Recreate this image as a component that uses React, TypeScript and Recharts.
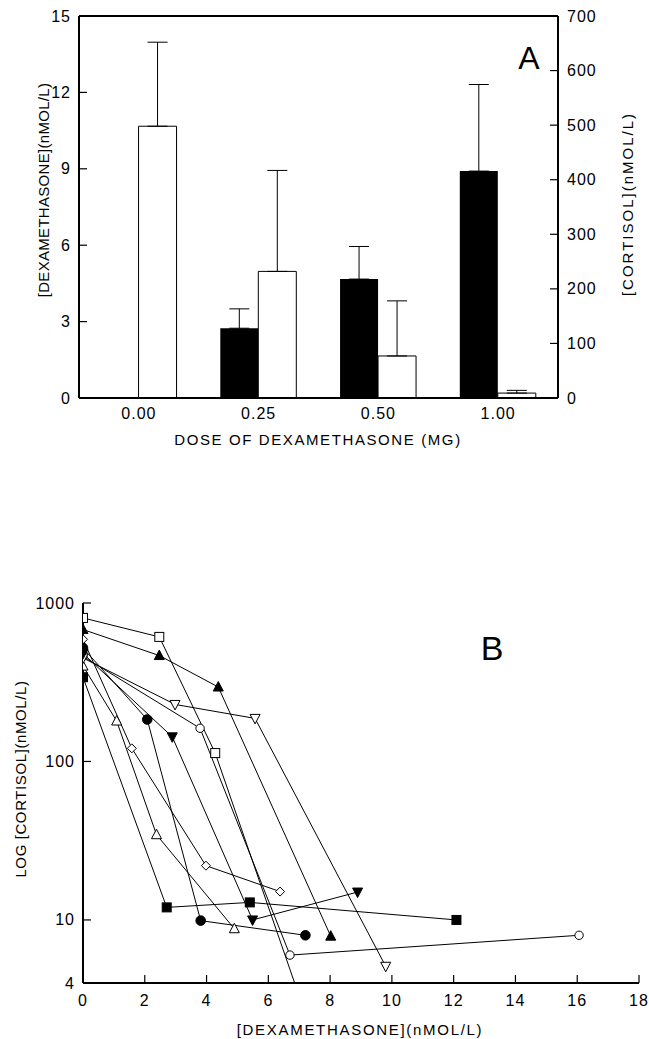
import { BarChart, Bar, XAxis, YAxis, ErrorBar, LineChart, Line } from "recharts";

const FONT = "'Liberation Sans', Arial, sans-serif";

// panel A
const doses = ["0.00", "0.25", "0.50", "1.00"];
const dexValues = [0, 2.74, 4.67, 8.91];
const dexErrors = [0, 0.76, 1.28, 3.4];
const cortisolValues = [498, 232, 77, 9];
const cortisolErrors = [154, 185, 101, 5];
const dexTicks = [0, 3, 6, 9, 12, 15];
const cortisolTicks = [0, 100, 200, 300, 400, 500, 600, 700];

const barData = doses.map((dose, i) => ({
  dose,
  dex: dexValues[i],
  dexErr: [0, dexErrors[i]],
  cort: cortisolValues[i],
  cortErr: [0, cortisolErrors[i]],
}));

// panel B: [dexamethasone, cortisol] per subject
const openSquare = [[0, 805], [2.47, 611], [4.28, 113], [7.0, 3.3]];
const filledTriangle = [[0, 680], [2.47, 466], [4.38, 295], [8.02, 7.9]];
const openDiamond = [[0, 590], [1.58, 121], [3.98, 22], [6.38, 15.1]];
const filledCircle = [[0, 520], [2.08, 184], [3.81, 9.9], [7.2, 8.0]];
const openCircle = [[0, 460], [3.79, 162], [6.7, 6.0], [16.06, 8.0]];
const openTriangle = [[0, 400], [1.09, 180], [2.38, 34.5], [4.9, 8.8]];
const filledSquare = [[0, 340], [2.71, 12.0], [5.4, 12.9], [12.09, 10]];
const openTriangleDown = [[0, 450], [2.98, 229], [5.57, 187], [9.8, 5.1]];
const filledTriangleDown = [[0, 480], [2.89, 143], [5.49, 10], [8.89, 15.0]];

const xTicksB = [0, 2, 4, 6, 8, 10, 12, 14, 16, 18];
const yTicksB = [4, 10, 100, 1000];

const seriesB = [
  { name: "s1", pts: openSquare, shape: "square", filled: false },
  { name: "s2", pts: filledTriangle, shape: "up", filled: true },
  { name: "s3", pts: openDiamond, shape: "diamond", filled: false },
  { name: "s4", pts: filledCircle, shape: "circle", filled: true },
  { name: "s5", pts: openCircle, shape: "circle", filled: false },
  { name: "s6", pts: openTriangle, shape: "up", filled: false },
  { name: "s7", pts: filledSquare, shape: "square", filled: true },
  { name: "s8", pts: openTriangleDown, shape: "down", filled: false },
  { name: "s9", pts: filledTriangleDown, shape: "down", filled: true },
].map((s) => ({ ...s, data: s.pts.map(([x, y]) => ({ x, y })) }));

const Marker = ({ cx, cy, shape, filled }: any) => {
  if (cx == null || cy == null || isNaN(cx) || isNaN(cy)) return null;
  const fill = filled ? "#000" : "#fff";
  const common = { fill, stroke: "#000", strokeWidth: 1 };
  if (shape === "square") return <rect x={cx - 4.5} y={cy - 4.5} width={9} height={9} {...common} />;
  if (shape === "circle") return <circle cx={cx} cy={cy} r={filled ? 4.8 : 4.2} {...common} />;
  if (shape === "diamond")
    return <polygon points={`${cx},${cy - 4.5} ${cx + 4.5},${cy} ${cx},${cy + 4.5} ${cx - 4.5},${cy}`} {...common} />;
  if (shape === "up")
    return <polygon points={`${cx},${cy - 5.5} ${cx + 5},${cy + 4} ${cx - 5},${cy + 4}`} {...common} />;
  return <polygon points={`${cx},${cy + 5.5} ${cx + 5},${cy - 4} ${cx - 5},${cy - 4}`} {...common} />;
};

const tickText = { fontFamily: FONT, fontSize: 16, fill: "#000", letterSpacing: 1 };
const tickMark = { stroke: "#000", strokeWidth: 1.2, fill: "none" };

// tick marks point into the plot; the axis line is 8px from the label anchor
const LeftTick = (props: any) => {
  const x = Number(props.x);
  const y = Number(props.y);
  return (
    <g>
      <path d={`M${x + 8},${y}h8`} {...tickMark} />
      <text x={x} y={y} textAnchor="end" dominantBaseline="central" {...tickText}>
        {props.payload.value}
      </text>
    </g>
  );
};

const LeftMarkOnly = (props: any) => {
  const x = Number(props.x);
  const y = Number(props.y);
  return <path d={`M${x + 9},${y}h8`} {...tickMark} />;
};

const RightTick = (props: any) => {
  const x = Number(props.x);
  const y = Number(props.y);
  return (
    <g>
      <path d={`M${x - 8},${y}h-8`} {...tickMark} />
      <text x={x + 1} y={y} textAnchor="start" dominantBaseline="central" {...tickText}>
        {props.payload.value}
      </text>
    </g>
  );
};

const BottomTickA = ({ x, y, payload }: any) => (
  <text x={x} y={y + 5} textAnchor="middle" dominantBaseline="central" {...tickText}>
    {payload.value}
  </text>
);

const BottomTickB = (props: any) => {
  const x = Number(props.x);
  const y = Number(props.y);
  return (
    <g>
      <path d={`M${x},${y - 10}v-8`} {...tickMark} />
      <text x={x} y={y + 7} textAnchor="middle" dominantBaseline="central" {...tickText}>
        {props.payload.value}
      </text>
    </g>
  );
};

const label = (extra: any) => ({
  position: "absolute" as const,
  fontFamily: FONT,
  fontSize: 15,
  color: "#000",
  whiteSpace: "nowrap" as const,
  transform: "translate(-50%, -50%)",
  ...extra,
});

const App = () => {
  const axisLine = { stroke: "#000", strokeWidth: 2 };
  return (
    <div style={{ position: "absolute", left: 0, top: 0, width: 649, height: 1039, background: "#fff" }}>
      <div style={{ position: "absolute", left: 0, top: 0 }}>
        <BarChart
          width={649}
          height={450}
          data={barData}
          margin={{ top: 15, right: 90, bottom: 51, left: 78 }}
          barGap={0}
          barCategoryGap="18%"
        >
          <XAxis dataKey="dose" height={1} tickSize={0} tickMargin={10} tickLine={false} axisLine={axisLine} tick={BottomTickA} />
          <XAxis xAxisId="top" orientation="top" dataKey="dose" height={1} tick={false} tickLine={false} axisLine={axisLine} />
          <YAxis
            yAxisId="left"
            width={1}
            domain={[0, 15]}
            ticks={dexTicks}
            tickSize={0}
            tickMargin={8}
            tickLine={false}
            axisLine={axisLine}
            tick={LeftTick}
          />
          <YAxis
            yAxisId="right"
            orientation="right"
            width={1}
            domain={[0, 700]}
            ticks={cortisolTicks}
            tickSize={0}
            tickMargin={8}
            tickLine={false}
            axisLine={axisLine}
            tick={RightTick}
          />
          <Bar yAxisId="left" dataKey="dex" fill="#000" isAnimationActive={false}>
            <ErrorBar dataKey="dexErr" width={10} stroke="#000" strokeWidth={1} direction="y" />
          </Bar>
          <Bar yAxisId="right" dataKey="cort" fill="#fff" stroke="#000" strokeWidth={1} isAnimationActive={false}>
            <ErrorBar dataKey="cortErr" width={10} stroke="#000" strokeWidth={1} direction="y" />
          </Bar>
        </BarChart>
      </div>

      <div style={{ position: "absolute", left: 0, top: 560 }}>
        <LineChart width={649} height={479} margin={{ top: 43, right: 10, bottom: 55, left: 81 }}>
          <XAxis
            type="number"
            dataKey="x"
            domain={[0, 18]}
            ticks={xTicksB}
            height={1}
            tickSize={0}
            tickMargin={10}
            tickLine={false}
            axisLine={axisLine}
            tick={BottomTickB}
            allowDataOverflow
          />
          <YAxis
            type="number"
            dataKey="y"
            scale="log"
            domain={[4, 1000]}
            ticks={yTicksB}
            width={1}
            tickSize={0}
            tickMargin={8}
            tickLine={false}
            axisLine={axisLine}
            tick={LeftTick}
            allowDataOverflow
          />
          <YAxis
            yAxisId="marks"
            type="number"
            scale="log"
            domain={[4, 1000]}
            ticks={yTicksB}
            width={1}
            tickSize={0}
            tickMargin={8}
            tickLine={false}
            axisLine={false}
            tick={LeftMarkOnly}
          />
          {seriesB.map((s) => (
            <Line
              key={s.name}
              data={s.data}
              dataKey="y"
              type="linear"
              stroke="#000"
              strokeWidth={1}
              isAnimationActive={false}
              dot={(p: any) => <Marker key={`${s.name}-${p.index}`} cx={p.cx} cy={p.cy} shape={s.shape} filled={s.filled} />}
              activeDot={false}
            />
          ))}
        </LineChart>
      </div>

      <div style={label({ left: 43, top: 190, transform: "translate(-50%, -50%) rotate(-90deg)", letterSpacing: 0.3 })}>
        [DEXAMETHASONE](nMOL/L)
      </div>
      <div style={label({ left: 627, top: 204, transform: "translate(-50%, -50%) rotate(-90deg)", letterSpacing: 2 })}>
        [CORTISOL](nMOL/L)
      </div>
      <div style={label({ left: 318, top: 439, letterSpacing: 1.6 })}>DOSE OF DEXAMETHASONE (MG)</div>
      <div style={label({ left: 529, top: 58, fontSize: 32 })}>A</div>

      <div style={label({ left: 492, top: 648, fontSize: 34 })}>B</div>
      <div style={label({ left: 20, top: 779, transform: "translate(-50%, -50%) rotate(-90deg)", letterSpacing: 0.6 })}>
        LOG [CORTISOL](nMOL/L)
      </div>
      <div style={label({ left: 360, top: 1029, letterSpacing: 1.7 })}>[DEXAMETHASONE](nMOL/L)</div>
    </div>
  );
};

export default App;
